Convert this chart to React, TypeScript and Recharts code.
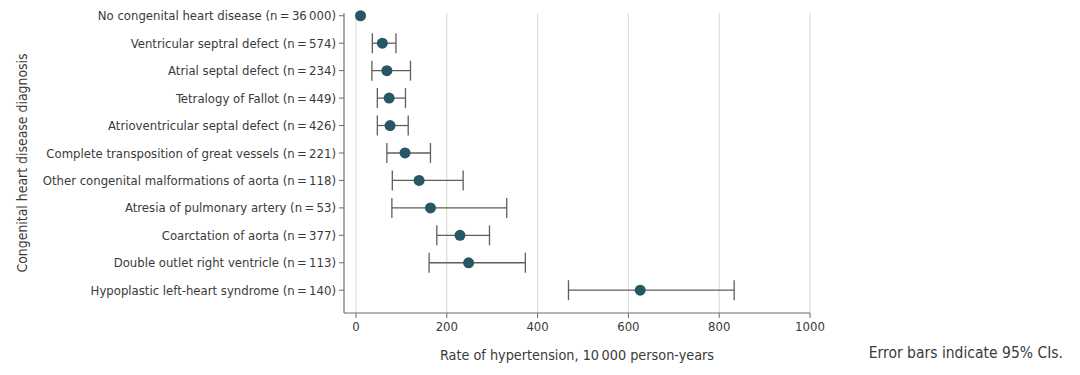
import React from 'react';
import { ScatterChart, Scatter, XAxis, YAxis, CartesianGrid, ErrorBar } from 'recharts';

const categories = [
  'No congenital heart disease (n\u2009=\u200936\u2009000)',
  'Ventricular septral defect (n\u2009=\u2009574)',
  'Atrial septal defect (n\u2009=\u2009234)',
  'Tetralogy of Fallot (n\u2009=\u2009449)',
  'Atrioventricular septal defect (n\u2009=\u2009426)',
  'Complete transposition of great vessels (n\u2009=\u2009221)',
  'Other congenital malformations of aorta (n\u2009=\u2009118)',
  'Atresia of pulmonary artery (n\u2009=\u200953)',
  'Coarctation of aorta (n\u2009=\u2009377)',
  'Double outlet right ventricle (n\u2009=\u2009113)',
  'Hypoplastic left-heart syndrome (n\u2009=\u2009140)',
];
const rates = [10, 58, 68, 73, 75, 108, 139, 164, 229, 248, 626];
const lower: (number | null)[] = [null, 36, 35, 47, 47, 68, 80, 79, 178, 161, 468];
const upper: (number | null)[] = [null, 88, 120, 109, 115, 164, 236, 332, 294, 373, 833];
const xTicks = [0, 200, 400, 600, 800, 1000];

const data = categories.map((name, i) => ({
  idx: i,
  name,
  rate: rates[i],
  err: lower[i] == null || upper[i] == null ? undefined : [rates[i] - (lower[i] as number), (upper[i] as number) - rates[i]],
}));

const FONT = '"DejaVu Sans Condensed", "DejaVu Sans", sans-serif';
const TEXT = '#3a3a3a';
const AXIS = '#6b6b6b';
const DOT = '#275765';

const Dot = (props: any) => <circle cx={props.cx} cy={props.cy} r={5.5} fill={DOT} />;

export default function App() {
  return (
    <div style={{ position: 'absolute', left: 0, top: 0, width: 1080, height: 375, background: '#fff', fontFamily: FONT, fontStretch: 'condensed' }}>
      <ScatterChart width={1080} height={375} margin={{ top: 13, right: 270, bottom: 0, left: 0 }}>
        <CartesianGrid horizontal={false} vertical stroke="#dedede" strokeWidth={1.2} />
        <XAxis
          type="number"
          dataKey="rate"
          domain={[0, 1000]}
          ticks={xTicks}
          padding={{ left: 12, right: 0 }}
          height={62}
          tickSize={5}
          tickMargin={4}
          stroke={AXIS}
          tick={{ fill: TEXT, fontSize: 13, fontFamily: FONT }}
          label={{ value: 'Rate of hypertension, 10\u2009000 person-years', position: 'insideBottom', offset: 15, fill: TEXT, fontSize: 14.3, fontFamily: FONT }}
        />
        <YAxis
          type="number"
          dataKey="idx"
          reversed
          domain={[-0.1, 10.83]}
          ticks={categories.map((_, i) => i)}
          interval={0}
          tickFormatter={(v: number) => categories[v] ?? ''}
          width={344}
          tickSize={5}
          tickMargin={3}
          stroke={AXIS}
          tick={{ fill: TEXT, fontSize: 13, fontFamily: FONT }}
          label={{
            content: () => (
              <text x={22} y={163} transform="rotate(-90 22 163)" textAnchor="middle" dominantBaseline="central" fill={TEXT} fontSize={13.9} fontFamily={FONT}>
                Congenital heart disease diagnosis
              </text>
            ),
          }}
        />
        <Scatter data={data} shape={Dot} isAnimationActive={false}>
          <ErrorBar dataKey="err" direction="x" width={10} stroke="#5e5e5e" strokeWidth={1.3} />
        </Scatter>
      </ScatterChart>
      <div style={{ position: 'absolute', right: 17, top: 343, fontSize: 15.5, lineHeight: '20px', color: TEXT, fontFamily: FONT, whiteSpace: 'nowrap' }}>
        Error bars indicate 95% CIs.
      </div>
    </div>
  );
}
